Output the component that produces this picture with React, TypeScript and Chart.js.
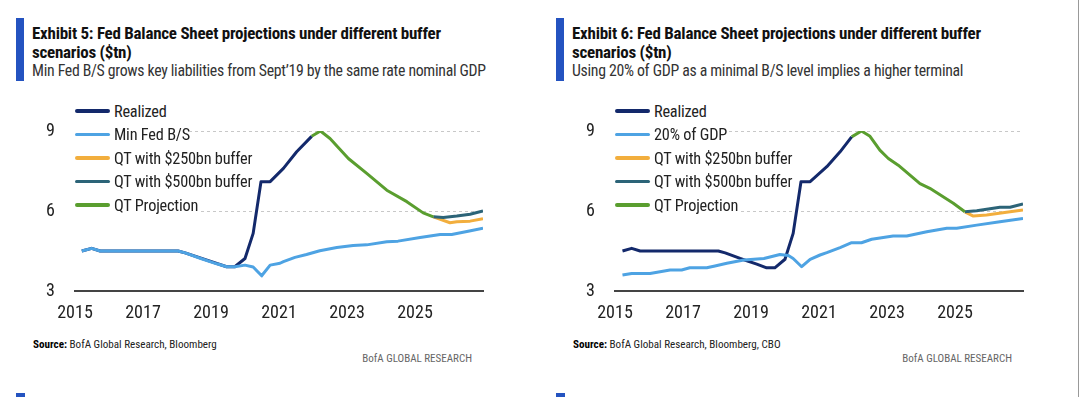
import React, { useEffect, useRef } from "react";
import { Chart, registerables } from "chart.js";

Chart.register(...registerables);

// ---------- Data ----------
const xTickYears = [2015, 2017, 2019, 2021, 2023, 2025];
const yTickValues = [3, 6, 9];

// Exhibit 5
const ex5Realized: [number, number][] = [
  [2015.2, 4.5], [2015.49, 4.6], [2015.74, 4.5], [2018.03, 4.5], [2018.24, 4.43],
  [2019.46, 3.91], [2019.7, 3.91], [2020.0, 4.22], [2020.24, 5.16], [2020.47, 7.1],
  [2020.74, 7.1], [2021.13, 7.6], [2021.52, 8.22], [2021.96, 8.8],
];
const ex5MinFed: [number, number][] = [
  [2015.2, 4.5], [2015.49, 4.6], [2015.74, 4.5], [2018.03, 4.5], [2018.24, 4.43],
  [2018.7, 4.22], [2019.17, 4.02], [2019.46, 3.91], [2019.7, 3.91], [2020.0, 3.97],
  [2020.24, 3.9], [2020.49, 3.57], [2020.74, 3.97], [2021.03, 4.04], [2021.13, 4.1],
  [2021.47, 4.26], [2021.81, 4.37], [2022.2, 4.51], [2022.7, 4.63], [2023.18, 4.71],
  [2023.58, 4.73], [2024.17, 4.85], [2024.5, 4.87], [2025.15, 5.01], [2025.74, 5.12],
  [2026.08, 5.12], [2026.6, 5.25], [2027.0, 5.35],
];
const ex5Buffer250: [number, number][] = [
  [2025.54, 5.78], [2026.03, 5.56], [2026.23, 5.6], [2026.62, 5.62], [2027.0, 5.71],
];
const ex5Buffer500: [number, number][] = [
  [2025.54, 5.78], [2025.83, 5.76], [2026.23, 5.81], [2026.62, 5.88], [2027.0, 6.0],
];
const ex5Projection: [number, number][] = [
  [2021.96, 8.8], [2022.22, 9.0], [2022.5, 8.72], [2023.04, 7.97], [2023.58, 7.41],
  [2024.17, 6.78], [2024.76, 6.35], [2025.24, 5.93], [2025.54, 5.78],
];

// Exhibit 6
const ex6Realized: [number, number][] = [
  [2015.22, 4.5], [2015.49, 4.6], [2015.74, 4.5], [2018.04, 4.5], [2018.24, 4.43],
  [2018.68, 4.22], [2019.17, 4.01], [2019.46, 3.87], [2019.7, 3.87], [2020.0, 4.19],
  [2020.24, 5.16], [2020.47, 7.1], [2020.74, 7.1], [2021.23, 7.66], [2021.62, 8.22],
  [2021.96, 8.78],
];
const ex6Gdp20: [number, number][] = [
  [2015.22, 3.6], [2015.49, 3.66], [2016.03, 3.66], [2016.62, 3.79], [2016.96, 3.79],
  [2017.2, 3.87], [2017.7, 3.87], [2017.94, 3.94], [2018.29, 4.04], [2018.79, 4.16],
  [2019.38, 4.22], [2019.85, 4.37], [2020.1, 4.33], [2020.24, 4.22], [2020.49, 3.91],
  [2020.74, 4.19], [2021.03, 4.35], [2021.23, 4.44], [2021.62, 4.63], [2021.96, 4.81],
  [2022.25, 4.81], [2022.55, 4.94], [2023.18, 5.06], [2023.58, 5.06], [2024.17, 5.22],
  [2024.76, 5.35], [2025.05, 5.35], [2025.64, 5.47], [2026.32, 5.6], [2027.0, 5.72],
];
const ex6Buffer250: [number, number][] = [
  [2025.29, 5.97], [2025.54, 5.81], [2025.93, 5.85], [2026.62, 5.97], [2027.0, 6.04],
];
const ex6Buffer500: [number, number][] = [
  [2025.29, 5.97], [2025.64, 6.01], [2026.32, 6.14], [2026.62, 6.14], [2027.0, 6.26],
];
const ex6Projection: [number, number][] = [
  [2021.96, 8.78], [2022.25, 9.0], [2022.5, 8.8], [2022.79, 8.28], [2023.04, 7.97],
  [2023.33, 7.72], [2023.97, 7.03], [2024.26, 6.85], [2024.95, 6.29], [2025.29, 5.97],
];

const ex5Labels = ["Realized", "Min Fed B/S", "QT with $250bn buffer", "QT with $500bn buffer", "QT Projection"];
const ex6Labels = ["Realized", "20% of GDP", "QT with $250bn buffer", "QT with $500bn buffer", "QT Projection"];

// ---------- Styles ----------
const COLORS = ["#13296b", "#4ea3e3", "#f2ae3d", "#2c6478", "#5a9e2f"];
const FONT = '"Roboto Condensed", "Liberation Sans Narrow", Roboto, sans-serif';

type Series = [number, number][];

interface PanelProps {
  left: number;
  title1: string;
  title2: string;
  subtitle: string;
  labels: string[];
  series: Series[]; // order: realized, min, 250, 500, projection
  source: string;
}

function ChartCanvas({ series }: { series: Series[] }) {
  const ref = useRef<HTMLCanvasElement | null>(null);
  useEffect(() => {
    if (!ref.current) return;
    const mk = (s: Series, color: string) => ({
      data: s.map(([x, y]) => ({ x, y })),
      borderColor: color,
      backgroundColor: color,
      borderWidth: 3,
      pointRadius: 0,
      tension: 0,
      fill: false,
      borderJoinStyle: "round" as const,
    });
    // index 0 is drawn on top
    const datasets = [
      mk(series[1], COLORS[1]),
      mk(series[0], COLORS[0]),
      mk(series[4], COLORS[4]),
      mk(series[3], COLORS[3]),
      mk(series[2], COLORS[2]),
    ];
    const chart = new Chart(ref.current, {
      type: "line",
      data: { datasets },
      options: {
        animation: false,
        responsive: false,
        maintainAspectRatio: false,
        devicePixelRatio: 1,
        layout: { padding: { left: 0, top: 36, right: 37, bottom: 0 } },
        plugins: { legend: { display: false }, tooltip: { enabled: false }, title: { display: false } },
        scales: {
          x: {
            type: "linear",
            min: 2015,
            max: 2027,
            afterBuildTicks: (s: any) => {
              s.ticks = xTickYears.map((v) => ({ value: v }));
            },
            afterFit: (s: any) => {
              s.height = 39;
            },
            ticks: {
              color: "#222",
              font: { family: FONT, size: 18 },
              padding: 12,
              maxRotation: 0,
              autoSkip: false,
              callback: (v: any) => String(v),
            },
            grid: { display: false, drawTicks: false, tickLength: 0 },
            border: { display: true, color: "#444", width: 2 },
          },
          y: {
            type: "linear",
            min: 3,
            max: 9,
            afterBuildTicks: (s: any) => {
              s.ticks = yTickValues.map((v) => ({ value: v }));
            },
            afterFit: (s: any) => {
              s.width = 75;
            },
            ticks: {
              color: "#222",
              font: { family: FONT, size: 18 },
              padding: 20,
            },
            grid: {
              drawTicks: false,
              tickLength: 0,
              lineWidth: 1,
              color: (ctx: any) => (ctx.tick && ctx.tick.value === 3 ? "rgba(0,0,0,0)" : "#c8c8c8"),
            },
            border: { display: false, dash: [3, 3] },
          },
        },
      },
    });
    return () => chart.destroy();
  }, [series]);
  return <canvas ref={ref} width={520} height={235} style={{ position: "absolute", left: 0, top: 95, width: 520, height: 235 }} />;
}

function Panel({ left, title1, title2, subtitle, labels, series, source }: PanelProps) {
  const titleStyle: React.CSSProperties = {
    position: "absolute",
    left: 32,
    fontFamily: FONT,
    fontWeight: 700,
    fontSize: 17,
    letterSpacing: "-0.25px",
    lineHeight: "20px",
    color: "#111",
    whiteSpace: "nowrap",
  };
  return (
    <div style={{ position: "absolute", left, top: 0, width: 540, height: 397 }}>
      <div style={{ position: "absolute", left: 16, top: 18, width: 8, height: 63, background: "#2453c0" }} />
      <div style={{ ...titleStyle, top: 23 }}>{title1}</div>
      <div style={{ ...titleStyle, top: 42 }}>{title2}</div>
      <div
        style={{
          position: "absolute",
          left: 32,
          top: 61,
          fontFamily: FONT,
          fontSize: 15.8,
          letterSpacing: "-0.3px",
          lineHeight: "20px",
          color: "#333",
          whiteSpace: "nowrap",
        }}
      >
        {subtitle}
      </div>
      <ChartCanvas series={series} />
      {labels.map((lab, i) => (
        <div
          key={lab}
          style={{
            position: "absolute",
            left: 75,
            top: 99.5 + i * 23.5,
            height: 23,
            display: "flex",
            alignItems: "center",
            background: "#fff",
          }}
        >
          <div style={{ width: 35, height: 3.5, background: COLORS[i], borderRadius: 2 }} />
          <div
            style={{
              marginLeft: 4,
              fontFamily: FONT,
              fontSize: 16.3,
              letterSpacing: "-0.2px",
              color: "#222",
              whiteSpace: "nowrap",
              lineHeight: "23px",
            }}
          >
            {lab}
          </div>
        </div>
      ))}
      <div
        style={{
          position: "absolute",
          left: 33,
          top: 338,
          fontFamily: FONT,
          fontSize: 11.1,
          lineHeight: "14px",
          color: "#222",
          whiteSpace: "nowrap",
        }}
      >
        <span style={{ fontWeight: 700, color: "#000" }}>Source:</span>
        {"  " + source}
      </div>
      <div
        style={{
          position: "absolute",
          left: 300,
          width: 172,
          top: 352,
          textAlign: "right",
          fontFamily: FONT,
          fontSize: 11,
          lineHeight: "14px",
          color: "#666",
          whiteSpace: "nowrap",
        }}
      >
        BofA GLOBAL RESEARCH
      </div>
      <div style={{ position: "absolute", left: 16, top: 393, width: 9, height: 4, background: "#2453c0" }} />
    </div>
  );
}

const ex5Series: Series[] = [ex5Realized, ex5MinFed, ex5Buffer250, ex5Buffer500, ex5Projection];
const ex6Series: Series[] = [ex6Realized, ex6Gdp20, ex6Buffer250, ex6Buffer500, ex6Projection];

export default function App() {
  return (
    <div style={{ position: "fixed", left: 0, top: 0, width: 1080, height: 397, background: "#fff", overflow: "hidden" }}>
      <Panel
        left={0}
        title1="Exhibit 5: Fed Balance Sheet projections under different buffer"
        title2="scenarios ($tn)"
        subtitle="Min Fed B/S grows key liabilities from Sept’19 by the same rate nominal GDP"
        labels={ex5Labels}
        series={ex5Series}
        source="BofA Global Research, Bloomberg"
      />
      <Panel
        left={540}
        title1="Exhibit 6: Fed Balance Sheet projections under different buffer"
        title2="scenarios ($tn)"
        subtitle="Using 20% of GDP as a minimal B/S level implies a higher terminal"
        labels={ex6Labels}
        series={ex6Series}
        source="BofA Global Research, Bloomberg, CBO"
      />
      <div style={{ position: "absolute", left: 1078, top: 0, width: 1, height: 397, background: "#999" }} />
    </div>
  );
}
